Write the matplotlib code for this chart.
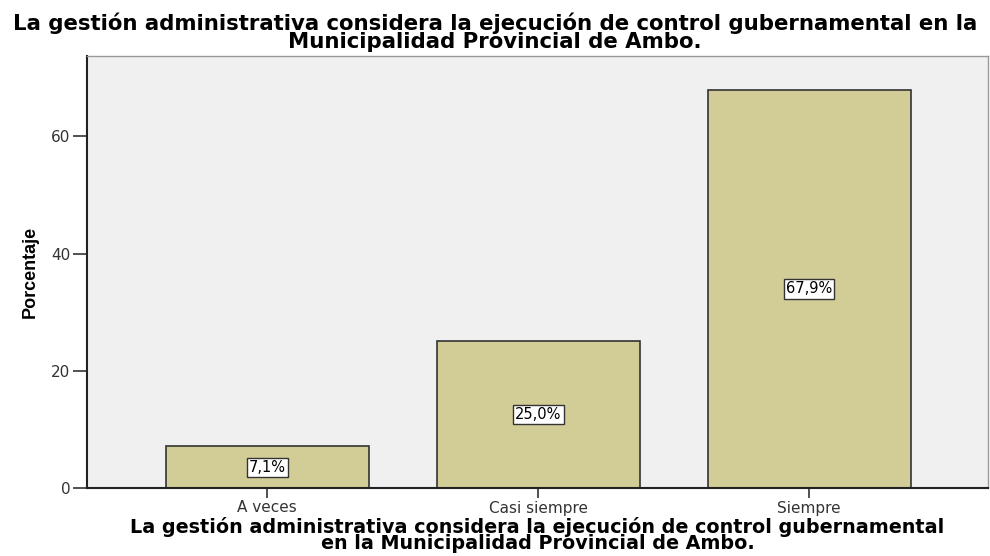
import matplotlib
matplotlib.use('Agg')
import matplotlib.pyplot as plt

categorias = ['A veces', 'Casi siempre', 'Siempre']
porcentajes = [7.1, 25.0, 67.9]
etiquetas = ['7,1%', '25,0%', '67,9%']
yticks = [0, 20, 40, 60]

titulo = ('La gestión administrativa considera la ejecución de control gubernamental en la\n'
          'Municipalidad Provincial de Ambo.')
xtitulo = ('La gestión administrativa considera la ejecución de control gubernamental\n'
           'en la Municipalidad Provincial de Ambo.')

plt.rcParams['font.family'] = 'DejaVu Sans'

fig = plt.figure(figsize=(9.9, 5.56), dpi=100)
ax = fig.add_axes([87 / 990, 1 - 488 / 556, (988 - 87) / 990, (488 - 56) / 556])
ax.set_facecolor('#f0f0f0')

pos = range(len(categorias))
ax.bar(pos, porcentajes, width=0.75, color='#d2cd96', edgecolor='#333333', linewidth=1.2)
for x, v, t in zip(pos, porcentajes, etiquetas):
    ax.text(x, v / 2, t, ha='center', va='center', fontsize=10.5,
            bbox=dict(boxstyle='square,pad=0.15', fc='white', ec='#333333', lw=1))

ax.set_xlim(-0.665, 2.66)
ax.set_ylim(0, 73.7)
ax.set_xticks(list(pos))
ax.set_xticklabels(categorias, fontsize=11, color='#333333')
ax.set_yticks(yticks)
ax.set_yticklabels([str(v) for v in yticks], fontsize=11, color='#333333')
ax.tick_params(axis='x', length=7, width=1.2, color='#333333', pad=2)
ax.tick_params(axis='y', length=10, width=1.2, color='#333333', pad=2)

for s in ['top', 'right']:
    ax.spines[s].set_color('#999999')
    ax.spines[s].set_linewidth(1)
for s in ['left', 'bottom']:
    ax.spines[s].set_color('#222222')
    ax.spines[s].set_linewidth(1.5)

ax.set_ylabel('Porcentaje', fontsize=13, fontweight='bold', family='Liberation Sans', labelpad=9)
ax.set_xlabel(xtitulo, fontsize=13.8, fontweight='bold', linespacing=0.8, labelpad=1)
fig.text(0.5, 0.978, titulo, ha='center', va='top', fontsize=15.3, fontweight='bold',
         linespacing=0.9)

fig.savefig('out.png', dpi=100)
